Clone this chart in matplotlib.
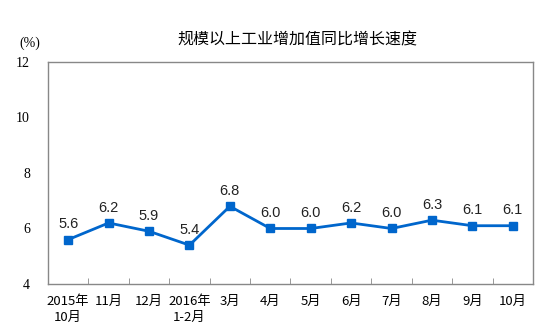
import matplotlib
matplotlib.use('Agg')
import matplotlib.pyplot as plt
import numpy as np

plt.rcParams['font.family'] = ['Noto Sans CJK SC', 'DejaVu Sans']

months = ['2015年\n10月', '11月', '12月', '2016年\n1-2月', '3月', '4月', '5月',
          '6月', '7月', '8月', '9月', '10月']
growth = [5.6, 6.2, 5.9, 5.4, 6.8, 6.0, 6.0, 6.2, 6.0, 6.3, 6.1, 6.1]
yticks = [4, 6, 8, 10, 12]

fig = plt.figure(figsize=(5.4, 3.34), dpi=100)
ax = fig.add_axes([0.0889, 0.1497, 0.8981, 0.6647])

x = np.arange(len(months))
ax.plot(x, growth, color='#0066CC', lw=2, marker='s', ms=6, zorder=3)
for xi, v in zip(x, growth):
    ax.text(xi, v + 0.3, '%.1f' % v, ha='center', va='bottom', fontsize=10.5,
            family=['Liberation Sans', 'DejaVu Sans'], color='#222222')

ax.set_xlim(-0.5, len(months) - 0.5)
ax.set_ylim(4, 12)
ax.set_yticks(yticks)
ax.set_yticklabels([str(t) for t in yticks], fontsize=10,
                   family=['Liberation Serif', 'DejaVu Serif'])
ax.tick_params(axis='y', length=0, pad=13)

# category boundaries as inward ticks on the bottom axis
ax.set_xticks(np.arange(0.5, len(months) - 0.5, 1.0), minor=True)
ax.set_xticks(x)
ax.set_xticklabels(months, fontsize=9.5, linespacing=1.25)
ax.tick_params(axis='x', which='major', length=0, pad=8)
ax.tick_params(axis='x', which='minor', direction='in', length=4, color='#888888')

for s in ax.spines.values():
    s.set_color('#888888')
    s.set_linewidth(1)

fig.text(30 / 540, 1 - 43 / 334, '(%)', ha='center', va='center', fontsize=10,
         family=['Liberation Serif', 'DejaVu Serif'])
fig.text(297 / 540, 1 - 40 / 334, '规模以上工业增加值同比增长速度', ha='center',
         va='center', fontsize=11.5)

fig.savefig('out.png', dpi=100)
